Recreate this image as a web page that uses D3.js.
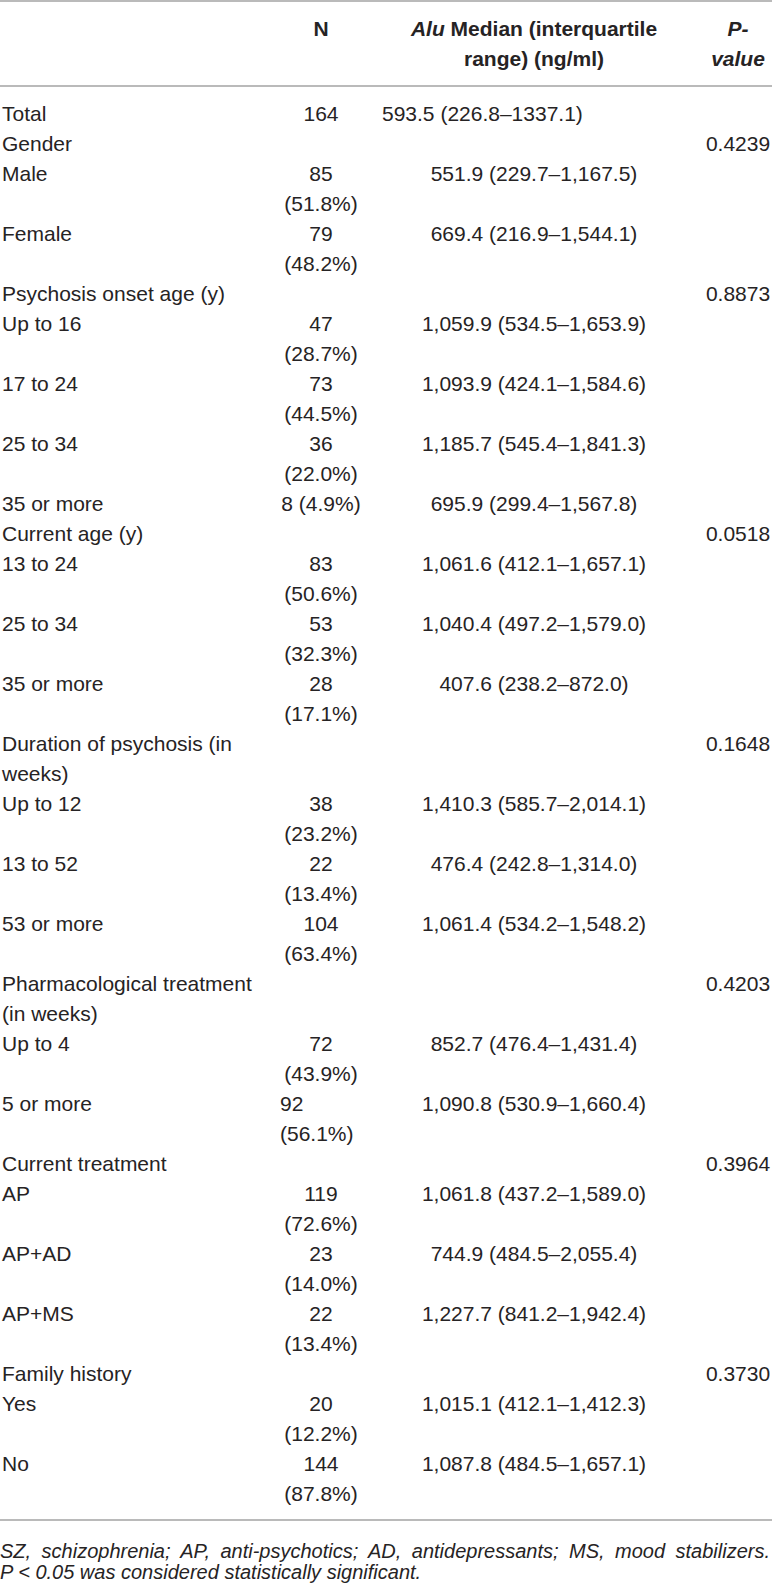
<!DOCTYPE html>
<html lang="en">
<head>
<meta charset="utf-8">
<title>Alu by clinical group</title>
<script src="https://cdnjs.cloudflare.com/ajax/libs/d3/7.8.5/d3.min.js"></script>
<style>
body { margin: 0; background: #fff; }
text { font-family: "Liberation Sans", Arial, sans-serif; fill: #262324; }
</style>
</head>
<body>
<script>
var w = 772, h = 1583;

// "|" marks a line break inside a cell
var labels = ["Total", "Gender", "Male", "Female", "Psychosis onset age (y)",
  "Up to 16", "17 to 24", "25 to 34", "35 or more", "Current age (y)",
  "13 to 24", "25 to 34", "35 or more", "Duration of psychosis (in|weeks)",
  "Up to 12", "13 to 52", "53 or more", "Pharmacological treatment|(in weeks)",
  "Up to 4", "5 or more", "Current treatment", "AP", "AP+AD", "AP+MS",
  "Family history", "Yes", "No"];

var nValues = ["164", "", "85|(51.8%)", "79|(48.2%)", "",
  "47|(28.7%)", "73|(44.5%)", "36|(22.0%)", "8 (4.9%)", "",
  "83|(50.6%)", "53|(32.3%)", "28|(17.1%)", "",
  "38|(23.2%)", "22|(13.4%)", "104|(63.4%)", "",
  "72|(43.9%)", "92|(56.1%)", "", "119|(72.6%)", "23|(14.0%)", "22|(13.4%)",
  "", "20|(12.2%)", "144|(87.8%)"];

var medians = ["593.5 (226.8\u20131337.1)", "", "551.9 (229.7\u20131,167.5)",
  "669.4 (216.9\u20131,544.1)", "",
  "1,059.9 (534.5\u20131,653.9)", "1,093.9 (424.1\u20131,584.6)",
  "1,185.7 (545.4\u20131,841.3)", "695.9 (299.4\u20131,567.8)", "",
  "1,061.6 (412.1\u20131,657.1)", "1,040.4 (497.2\u20131,579.0)",
  "407.6 (238.2\u2013872.0)", "",
  "1,410.3 (585.7\u20132,014.1)", "476.4 (242.8\u20131,314.0)",
  "1,061.4 (534.2\u20131,548.2)", "",
  "852.7 (476.4\u20131,431.4)", "1,090.8 (530.9\u20131,660.4)", "",
  "1,061.8 (437.2\u20131,589.0)", "744.9 (484.5\u20132,055.4)",
  "1,227.7 (841.2\u20131,942.4)", "",
  "1,015.1 (412.1\u20131,412.3)", "1,087.8 (484.5\u20131,657.1)"];

var pValues = ["", "0.4239", "", "", "0.8873", "", "", "", "", "0.0518",
  "", "", "", "0.1648", "", "", "", "0.4203", "", "", "0.3964", "", "", "",
  "0.3730", "", ""];

// header lines: [italic part, upright part]
var headN = [["", "N"]];
var headMedian = [["Alu", " Median (interquartile"], ["", "range) (ng/ml)"]];
var headP = [["P-", ""], ["value", ""]];

// cells that sit flush left instead of centred
var nLeftRows = ["5 or more"];
var medianLeftRows = ["Total"];

var footnotes = ["SZ, schizophrenia; AP, anti-psychotics; AD, antidepressants; MS, mood stabilizers.",
  "P < 0.05 was considered statistically significant."];

var svg = d3.select("body").append("svg")
  .attr("width", w)
  .attr("height", h);

// build rows with their starting line index
var rows = [];
var line = 0;
labels.forEach(function(d, i) {
  var r = {
    label: d.split("|"),
    n: nValues[i] ? nValues[i].split("|") : [],
    median: medians[i] ? [medians[i]] : [],
    p: pValues[i] ? [pValues[i]] : [],
    start: line
  };
  r.lines = Math.max(r.label.length, r.n.length, 1);
  line += r.lines;
  rows.push(r);
});

var y = d3.scaleLinear().domain([0, 1]).range([121, 151]);
var headY = d3.scaleLinear().domain([0, 1]).range([36, 66]);
var x = d3.scaleOrdinal()
  .domain(["label", "n", "median", "p"])
  .range([2, 321, 534, 738]);

// rules
var rules = [1, 86, y(line - 1) + 19];
svg.selectAll("line.rule")
  .data(rules)
  .enter()
  .append("line")
  .attr("class", "rule")
  .attr("x1", 0)
  .attr("x2", w)
  .attr("y1", function(d) { return d; })
  .attr("y2", function(d) { return d; })
  .attr("stroke", "#a3a3a3")
  .attr("stroke-width", 1.6);

// header
var heads = [{col: "n", lines: headN}, {col: "median", lines: headMedian}, {col: "p", lines: headP}];
heads.forEach(function(hd) {
  hd.lines.forEach(function(l, j) {
    var t = svg.append("text")
      .attr("x", x(hd.col))
      .attr("y", headY(j))
      .attr("text-anchor", "middle")
      .attr("font-size", "21px")
      .attr("font-weight", "bold");
    if (l[0]) t.append("tspan").attr("font-style", "italic").text(l[0]);
    if (l[1]) t.append("tspan").text(l[1]);
  });
});

// body cells
var cells = [];
rows.forEach(function(r, i) {
  ["label", "n", "median", "p"].forEach(function(c) {
    r[c].forEach(function(txt, j) {
      var anchor = c == "label" ? "start" : "middle";
      var cx = x(c);
      if (c == "n" && nLeftRows.indexOf(labels[i]) >= 0) { anchor = "start"; cx = 280; }
      if (c == "median" && medianLeftRows.indexOf(labels[i]) >= 0) { anchor = "start"; cx = 382; }
      cells.push({text: txt, x: cx, line: r.start + j, anchor: anchor});
    });
  });
});

svg.selectAll("text.cell")
  .data(cells)
  .enter()
  .append("text")
  .attr("class", "cell")
  .attr("x", function(d) { return d.x; })
  .attr("y", function(d) { return y(d.line); })
  .attr("text-anchor", function(d) { return d.anchor; })
  .attr("font-size", "21px")
  .text(function(d) { return d.text; });

// footnote, first line justified to the table width
var foot = svg.selectAll("text.foot")
  .data(footnotes)
  .enter()
  .append("text")
  .attr("class", "foot")
  .attr("x", 0)
  .attr("y", function(d, i) { return 1558 + i * 21; })
  .attr("font-size", "20px")
  .attr("font-style", "italic")
  .text(function(d) { return d; });

foot.filter(function(d, i) { return i == 0; })
  .each(function(d) {
    var natural = this.getComputedTextLength();
    var gaps = d.split(" ").length - 1;
    d3.select(this).style("word-spacing", ((w - 2 - natural) / gaps) + "px");
  });
</script>
</body>
</html>
